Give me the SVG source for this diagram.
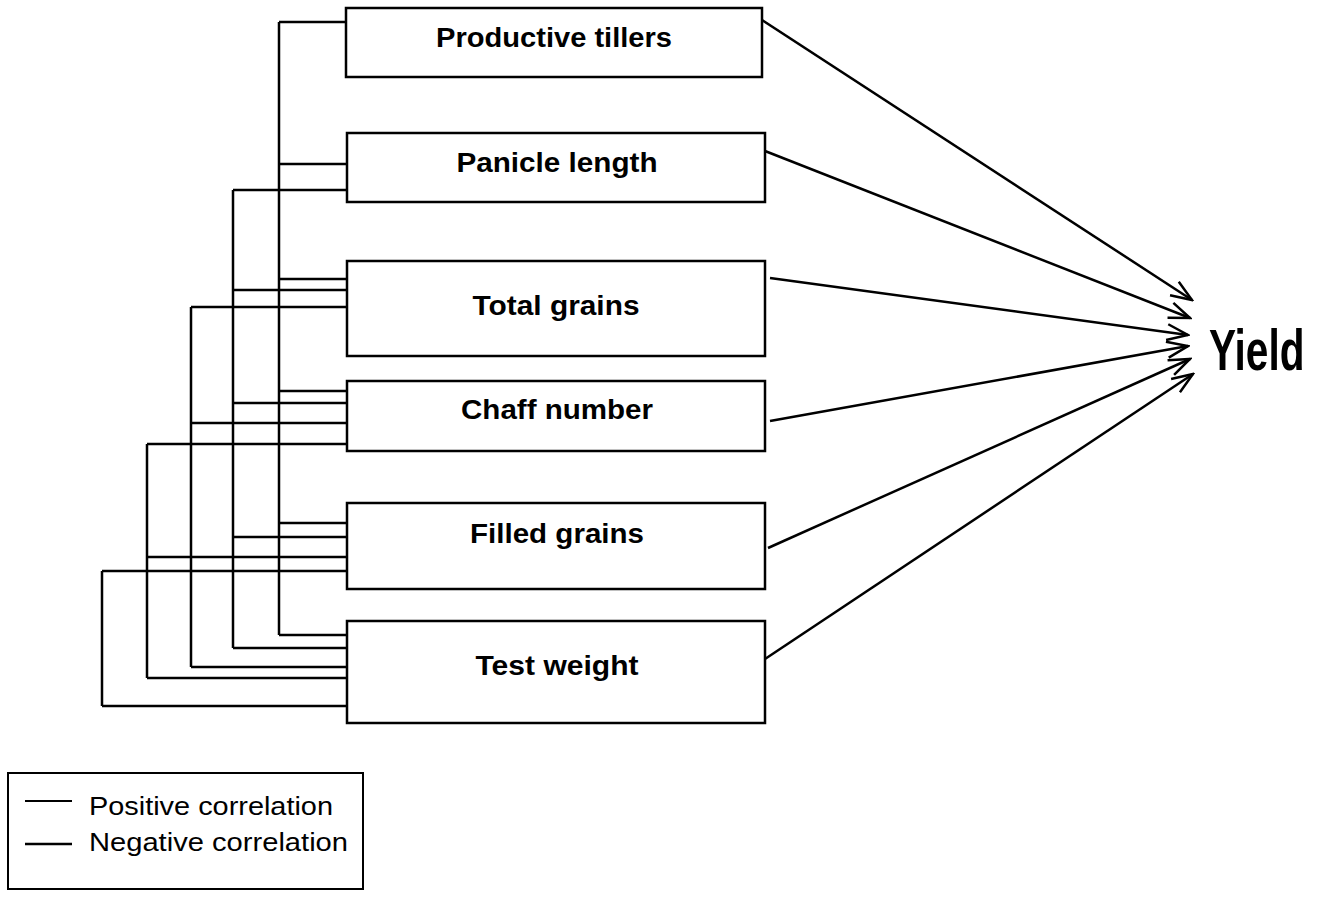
<svg xmlns="http://www.w3.org/2000/svg" width="1317" height="897" viewBox="0 0 1317 897">
<style>
.box{fill:#fff;stroke:#000;stroke-width:2.5}
.lbl{font-family:"Liberation Sans",Arial,sans-serif;font-weight:bold;font-size:27px;fill:#000;text-anchor:middle}
.conn{fill:none;stroke:#000;stroke-width:2.5}
.leg{font-family:"Liberation Sans",Arial,sans-serif;font-size:25px;fill:#000}
</style>
<defs>
<marker id="arr" viewBox="-24 -11 26 22" markerWidth="26" markerHeight="22" refX="0" refY="0" markerUnits="userSpaceOnUse" orient="auto">
<path d="M-21,-8 L0,0 L-21,8" fill="none" stroke="#000" stroke-width="2.5"/>
</marker>
</defs>
<rect width="1317" height="897" fill="#fff"/>
<g id="connectors">
<path class="conn" d="M279,22 V635 M233,190 V648 M191,307 V667 M147,444 V678 M102,571 V706"/>
<path class="conn" d="M279,22 H346 M279,164 H347 M279,279 H347 M279,391 H347 M279,523 H347 M279,635 H347"/>
<path class="conn" d="M233,190 H347 M233,290 H347 M233,403 H347 M233,537 H347 M233,648 H347"/>
<path class="conn" d="M191,307 H347 M191,423 H347 M191,667 H347"/>
<path class="conn" d="M147,444 H347 M147,557 H347 M147,678 H347"/>
<path class="conn" d="M102,571 H347 M102,706 H347"/>
<line class="conn" x1="762" y1="20" x2="1192" y2="300" marker-end="url(#arr)"/>
<line class="conn" x1="765" y1="151" x2="1190" y2="318" marker-end="url(#arr)"/>
<line class="conn" x1="770" y1="278" x2="1188" y2="335" marker-end="url(#arr)"/>
<line class="conn" x1="770" y1="421" x2="1188" y2="346" marker-end="url(#arr)"/>
<line class="conn" x1="768" y1="548" x2="1190" y2="359" marker-end="url(#arr)"/>
<line class="conn" x1="765" y1="659" x2="1193" y2="374" marker-end="url(#arr)"/>
</g>
<g id="productive-tillers">
<rect class="box" x="346" y="8" width="416" height="69"/>
<text class="lbl" x="554" y="47" textLength="236" lengthAdjust="spacingAndGlyphs">Productive tillers</text>
</g>
<g id="panicle-length">
<rect class="box" x="347" y="133" width="418" height="69"/>
<text class="lbl" x="557" y="172" textLength="201" lengthAdjust="spacingAndGlyphs">Panicle length</text>
</g>
<g id="total-grains">
<rect class="box" x="347" y="261" width="418" height="95"/>
<text class="lbl" x="556" y="315" textLength="167" lengthAdjust="spacingAndGlyphs">Total grains</text>
</g>
<g id="chaff-number">
<rect class="box" x="347" y="381" width="418" height="70"/>
<text class="lbl" x="557" y="419" textLength="192" lengthAdjust="spacingAndGlyphs">Chaff number</text>
</g>
<g id="filled-grains">
<rect class="box" x="347" y="503" width="418" height="86"/>
<text class="lbl" x="557" y="543" textLength="174" lengthAdjust="spacingAndGlyphs">Filled grains</text>
</g>
<g id="test-weight">
<rect class="box" x="347" y="621" width="418" height="102"/>
<text class="lbl" x="557" y="675" textLength="163" lengthAdjust="spacingAndGlyphs">Test weight</text>
</g>
<g id="yield">
<text transform="translate(1209,370) scale(0.7,1)" x="0" y="0" font-family="Liberation Sans, Arial, sans-serif" font-weight="bold" font-size="58">Yield</text>
</g>
<g id="legend">
<rect x="8" y="773" width="355" height="116" fill="#fff" stroke="#000" stroke-width="2"/>
<line x1="25" y1="801" x2="72" y2="801" stroke="#000" stroke-width="2"/>
<line x1="25" y1="844" x2="72" y2="844" stroke="#000" stroke-width="2.4"/>
<text class="leg" x="89" y="815" textLength="244" lengthAdjust="spacingAndGlyphs">Positive correlation</text>
<text class="leg" x="89" y="851" textLength="259" lengthAdjust="spacingAndGlyphs">Negative correlation</text>
</g>
</svg>
